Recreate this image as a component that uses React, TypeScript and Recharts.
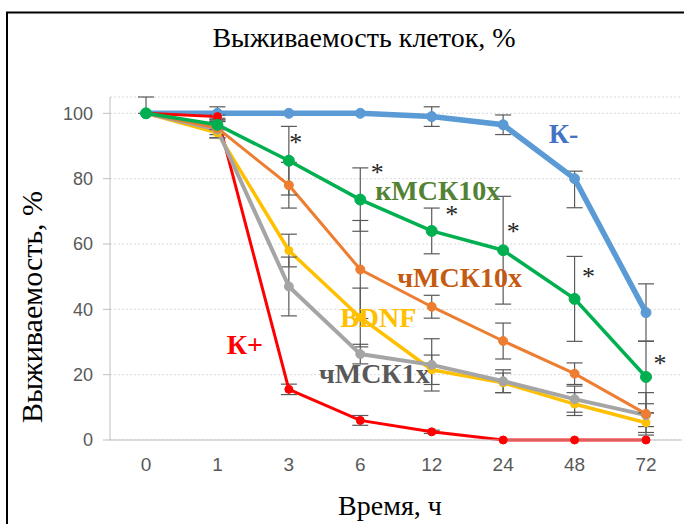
import React from 'react';
import { LineChart, Line, XAxis, YAxis, CartesianGrid, ErrorBar, ReferenceDot } from 'recharts';

// time points, h
const hours = ['0', '1', '3', '6', '12', '24', '48', '72'];

// survival, % and error (SD); [low, high] where the bar is uneven
const kMinus = [100, 100, 100, 100, 99, 96.5, 80, 39];
const kMinusErr: (number | number[])[] = [0, 2, 0, 0, 3, 3, [8.9, 2.3], 8.8];
const kPlus = [100, 99, 15.5, 6, 2.5, 0, 0, 0];
const kPlusErr = [0, 0.5, 1.6, 1.5, 0.5, 0, 0, 0];
const bdnf = [100, 94, 58, 37.5, 21.5, 17.5, 11, 5.3];
const bdnfErr = [0, 1.5, 5, 9, 4.5, 3, 3.5, 3];
const mck1 = [100, 95, 47, 26.3, 23, 18, 12.5, 7.6];
const mck1Err: (number | number[])[] = [[0, 5], 2.5, 9, 3, 8, 3.5, 4, 3.5];
const mck10 = [100, 95.5, 78, 52.2, 40.8, 30.3, 20.3, 8];
const mck10Err = [0, 2, 7, 15, 3.5, 5.5, 3.3, 6.5];
const kmck10 = [100, 96.5, 85.5, 73.6, 64, 58.1, 43.2, 19.3];
const kmck10Err = [0, 1.5, 10.5, 9.7, 7, 16.5, 13, 11];

// significance marks (*) next to the кМСК10x points
const starHours = ['3', '6', '12', '24', '48', '72'];
const starLevels = [92.4, 83.2, 70.3, 65.2, 51.5, 24.8];
const starShift = [7, 17, 20, 10, 14, 14];

const yTicks = [0, 20, 40, 60, 80, 100];

const data = hours.map((t, i) => ({
  t,
  kMinus: kMinus[i],
  kMinusErr: kMinusErr[i],
  kPlus: kPlus[i],
  kPlusErr: kPlusErr[i],
  bdnf: bdnf[i],
  bdnfErr: bdnfErr[i],
  mck1: mck1[i],
  mck1Err: mck1Err[i],
  mck10: mck10[i],
  mck10Err: mck10Err[i],
  kmck10: kmck10[i],
  kmck10Err: kmck10Err[i],
}));

// series name labels, anchored to a category + value, nudged sideways
const seriesLabels = [
  { text: 'К-', x: '48', y: 90.8, dx: -11, color: '#4472C4' },
  { text: 'кМСК10x', x: '12', y: 73.4, dx: 6, color: '#548235' },
  { text: 'чМСК10x', x: '12', y: 46.8, dx: 28, color: '#C55A11' },
  { text: 'BDNF', x: '6', y: 34.6, dx: 18, color: '#FFC000' },
  { text: 'К+', x: '3', y: 26.3, dx: -44, color: '#FF0000' },
  { text: 'чМСК1x', x: '6', y: 17.4, dx: 14, color: '#595959' },
];

const serif = '"Liberation Serif", "Times New Roman", serif';
const sans = '"Liberation Sans", Arial, sans-serif';
const errColor = '#595959';

const series = [
  { key: 'kMinus', color: '#5B9BD5', width: 5.5, r: 5 },
  { key: 'kPlus', color: '#FF0000', width: 3, r: 4 },
  { key: 'bdnf', color: '#FFC000', width: 3.5, r: 4 },
  { key: 'mck1', color: '#A5A5A5', width: 4, r: 4.5 },
  { key: 'mck10', color: '#ED7D31', width: 3, r: 4.5 },
  { key: 'kmck10', color: '#00B050', width: 3.5, r: 5.5 },
];

export default function App() {
  return (
    <div style={{ position: 'absolute', left: 0, top: 0, width: 684, height: 524, overflow: 'hidden', background: '#fff' }}>
      <LineChart width={684} height={524} data={data} margin={{ top: 97, right: 2, bottom: 0, left: 0 }}>
        <CartesianGrid vertical={false} stroke="#D9D9D9" strokeDasharray="2 2" />
        <XAxis
          dataKey="t"
          height={84}
          padding={{ left: 36, right: 36 }}
          tickLine={false}
          tickSize={0}
          tickMargin={18}
          axisLine={{ stroke: '#BFBFBF' }}
          tick={{ fill: '#595959', fontSize: 19, fontFamily: sans }}
        />
        <YAxis
          width={110}
          domain={[0, 105]}
          ticks={yTicks}
          tickSize={7}
          tickMargin={10}
          axisLine={{ stroke: '#BFBFBF' }}
          tickLine={{ stroke: '#BFBFBF' }}
          tick={{ fill: '#595959', fontSize: 18, fontFamily: sans }}
        />
        {series.map((s) => (
          <Line
            key={s.key}
            type="linear"
            dataKey={s.key}
            stroke={s.color}
            strokeWidth={s.width}
            dot={{ r: s.r, fill: s.color, stroke: s.color, strokeWidth: 1 }}
            activeDot={false}
            isAnimationActive={false}
          >
            <ErrorBar dataKey={s.key + 'Err'} direction="y" width={8} stroke={errColor} strokeWidth={1.2} />
          </Line>
        ))}
        {seriesLabels.map((l) => (
          <ReferenceDot
            key={l.text}
            x={l.x}
            y={l.y}
            r={1}
            shape={(p: any) => (
              <text
                x={p.cx + l.dx}
                y={p.cy}
                textAnchor="middle"
                fill={l.color}
                fontFamily={serif}
                fontWeight="bold"
                fontSize={28}
              >
                {l.text}
              </text>
            )}
          />
        ))}
        {starHours.map((h, i) => (
          <ReferenceDot
            key={'star' + h}
            x={h}
            y={starLevels[i]}
            r={1}
            shape={(p: any) => (
              <text
                x={p.cx + starShift[i]}
                y={p.cy + 13}
                textAnchor="middle"
                fill="#262626"
                fontFamily={serif}
                fontSize={26}
              >
                *
              </text>
            )}
          />
        ))}
      </LineChart>
      <svg width={684} height={524} style={{ position: 'absolute', left: 0, top: 0, pointerEvents: 'none' }}>
        <rect x={7} y={12.5} width={720} height={560} fill="none" stroke="#000" strokeWidth={2} />
        <text x={364} y={47} textAnchor="middle" fontFamily={serif} fontSize={28} fill="#000">
          Выживаемость клеток, %
        </text>
        <text x={390} y={515} textAnchor="middle" fontFamily={serif} fontSize={28} fill="#000">
          Время, ч
        </text>
        <text
          x={42}
          y={307}
          textAnchor="middle"
          transform="rotate(-90 42 307)"
          fontFamily={serif}
          fontSize={30}
          fill="#000"
        >
          Выживаемость, %
        </text>
      </svg>
    </div>
  );
}
